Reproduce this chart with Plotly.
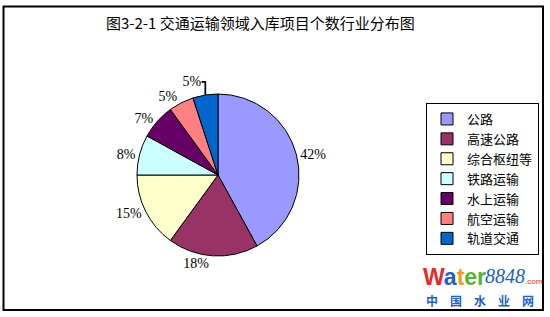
import plotly.graph_objects as go

categories = ["公路", "高速公路", "综合枢纽等", "铁路运输", "水上运输", "航空运输", "轨道交通"]
values = [42, 18, 15, 8, 7, 5, 5]
colors = ["#9999FF", "#993366", "#FFFFCC", "#CCFFFF", "#660066", "#FF8080", "#0066CC"]
title_text = "图3-2-1 交通运输领域入库项目个数行业分布图"

W, H = 550, 317
def px(x):
    return x / W
def py(y):
    return 1 - y / H

fig = go.Figure()
fig.add_trace(go.Pie(
    labels=categories,
    values=values,
    sort=False,
    direction="clockwise",
    rotation=0,
    marker=dict(colors=colors, line=dict(color="black", width=1)),
    texttemplate="%{value}%",
    textposition="outside",
    textfont=dict(family="Liberation Serif, Times New Roman, serif", size=14, color="black"),
    hoverinfo="label+percent",
    domain=dict(x=[px(137), px(299)], y=[py(256), py(94)]),
))

fig.update_layout(
    width=W, height=H,
    margin=dict(l=0, r=0, t=0, b=0),
    paper_bgcolor="white",
    plot_bgcolor="white",
    showlegend=True,
    legend=dict(
        x=px(539), y=py(103), xanchor="right", yanchor="top",
        bordercolor="black", borderwidth=1,
        font=dict(family="Noto Sans CJK SC", size=13, color="black"),
        itemwidth=30,
        tracegroupgap=0,
    ),
    shapes=[
        dict(type="rect", xref="paper", yref="paper",
             x0=px(3.5), x1=px(543), y0=py(310), y1=py(6.5),
             line=dict(color="black", width=2), fillcolor="rgba(0,0,0,0)"),
    ],
    annotations=[
        dict(text=title_text, xref="paper", yref="paper", x=px(260), y=py(22),
             xanchor="center", yanchor="middle", showarrow=False,
             font=dict(family="Noto Sans CJK SC", size=15, color="black")),
        dict(text=("<b><span style='color:#E52A2A'>W</span><span style='color:#1F5FC4'>a</span>"
                   "<span style='color:#F39A1B'>t</span><span style='color:#58B530'>er</span></b>"),
             xref="paper", yref="paper", x=px(421), y=py(277), xanchor="left", yanchor="middle",
             showarrow=False, font=dict(family="Liberation Sans, Arial", size=23)),
        dict(text="<i>8848</i>", xref="paper", yref="paper", x=px(483), y=py(276),
             xanchor="left", yanchor="middle", showarrow=False,
             font=dict(family="Liberation Serif, Times New Roman", size=20, color="#1F5FC4")),
        dict(text=".com", xref="paper", yref="paper", x=px(523), y=py(281),
             xanchor="left", yanchor="middle", showarrow=False,
             font=dict(family="Liberation Sans, Arial", size=8, color="#E52A2A")),
        dict(text="<b>中\u3000国\u3000水\u3000业\u3000网</b>", xref="paper", yref="paper",
             x=px(424), y=py(300), xanchor="left", yanchor="middle", showarrow=False,
             font=dict(family="Noto Sans CJK SC", size=12, color="#1F5FC4")),
    ],
)

fig.write_html("out.html")
